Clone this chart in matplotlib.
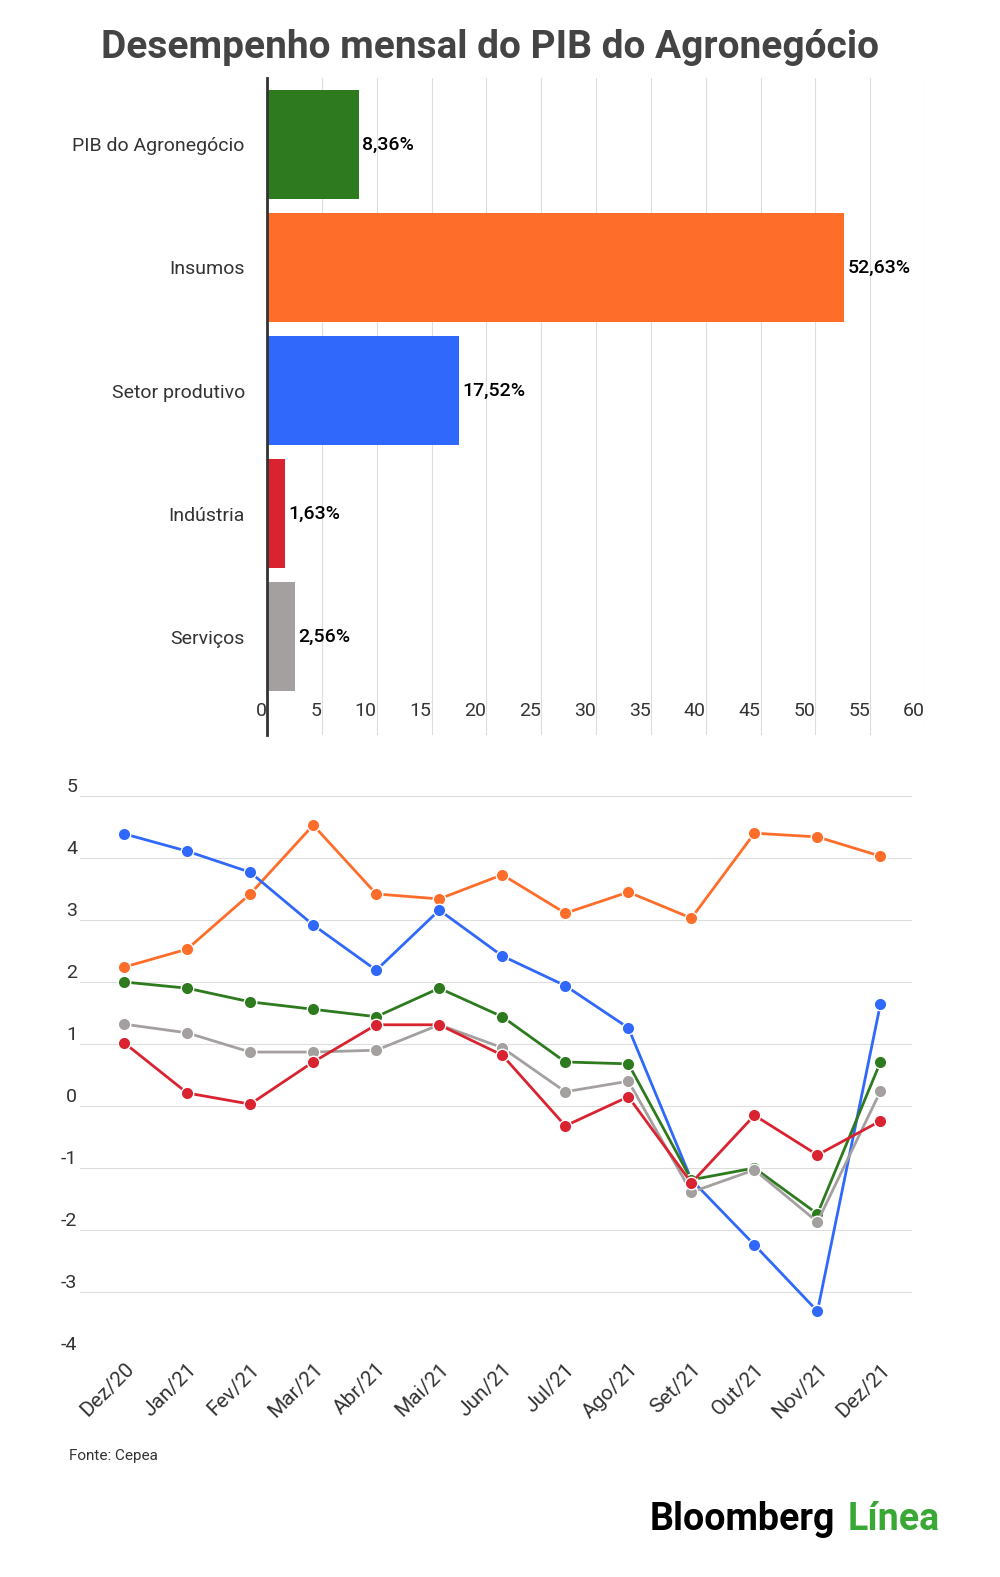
import matplotlib
matplotlib.use("Agg")
import matplotlib.pyplot as plt

plt.rcParams['font.family'] = ['Roboto', 'DejaVu Sans']

setores = ["PIB do Agronegócio", "Insumos", "Setor produtivo", "Indústria", "Serviços"]
valores = [8.36, 52.63, 17.52, 1.63, 2.56]
rotulos = ["8,36%", "52,63%", "17,52%", "1,63%", "2,56%"]
cores = ["#2e7a1f", "#ff6d2a", "#2f68fb", "#d92330", "#a4a0a0"]

meses = ["Dez/20", "Jan/21", "Fev/21", "Mar/21", "Abr/21", "Mai/21", "Jun/21",
         "Jul/21", "Ago/21", "Set/21", "Out/21", "Nov/21", "Dez/21"]
insumos = [2.24, 2.53, 3.42, 4.53, 3.42, 3.34, 3.73, 3.11, 3.45, 3.03, 4.40, 4.34, 4.03]
produtivo = [4.39, 4.11, 3.77, 2.92, 2.19, 3.16, 2.42, 1.94, 1.26, -1.19, -2.24, -3.31, 1.65]
pib = [2.0, 1.9, 1.68, 1.56, 1.44, 1.9, 1.44, 0.71, 0.68, -1.19, -1.0, -1.74, 0.71]
servicos = [1.32, 1.18, 0.87, 0.87, 0.9, 1.31, 0.94, 0.23, 0.4, -1.39, -1.03, -1.87, 0.24]
industria = [1.02, 0.21, 0.03, 0.71, 1.31, 1.31, 0.82, -0.32, 0.15, -1.24, -0.15, -0.79, -0.24]

fig = plt.figure(figsize=(10, 15.77), dpi=100)
fig.text(0.49, 1 - 48/1577, "Desempenho mensal do PIB do Agronegócio", ha='center', va='center',
         fontsize=28, fontweight='bold', color='#444444')

# barras
ax = fig.add_axes([0.267, 1 - 735/1577, 0.658, (735-78)/1577])
y = range(len(setores))
ax.barh(y, valores, color=cores, height=0.89)
ax.set_ylim(4.8, -0.54)
ax.set_xlim(0, 60)
ax.set_yticks(list(y))
ax.set_yticklabels(setores, fontsize=14, color='#333333')
ax.set_xticks(range(0, 61, 5))
ax.set_xticklabels([str(v) for v in range(0, 61, 5)], ha='right')
ax.tick_params(axis='x', direction='in', pad=-24, labelsize=14, colors='#333333', length=0)
ax.tick_params(axis='y', length=0, pad=16)
for i, v in enumerate(valores):
    ax.text(v + 0.3, i, rotulos[i], va='center', fontsize=14, fontweight='medium', color='black')
ax.grid(axis='x', color='#dddddd')
ax.set_axisbelow(True)
for s in ['top', 'right', 'bottom']:
    ax.spines[s].set_visible(False)
ax.spines['left'].set_linewidth(2)
ax.spines['left'].set_color('#333333')

# linhas
ax2 = fig.add_axes([0.08, 1 - 1354/1577, 0.832, (1354-796)/1577])
x = range(len(meses))
for serie, cor in [(insumos, cores[1]), (produtivo, cores[2]), (pib, cores[0]),
                   (servicos, cores[4]), (industria, cores[3])]:
    ax2.plot(x, serie, color=cor, lw=2, marker='o', ms=9, mec='white', mew=1)
ax2.set_ylim(-4, 5)
ax2.set_xlim(-0.7, 12.5)
ax2.set_yticks(range(-4, 6))
ax2.set_yticklabels([str(v) for v in range(-4, 6)], fontsize=14, color='#333333', va='bottom')
ax2.tick_params(axis='y', length=0, pad=2)
ax2.set_xticks(list(x))
ax2.set_xticklabels(meses, rotation=45, ha='right', rotation_mode='anchor', fontsize=15, color='#333333')
ax2.tick_params(axis='x', length=0, pad=4)
ax2.grid(axis='y', color='#dddddd')
for s in ax2.spines.values():
    s.set_visible(False)

fig.text(0.069, 1 - 1456/1577, "Fonte: Cepea", fontsize=11, color='#333333', va='center')
fig.text(0.65, 1 - 1520/1577, "Bloomberg", fontsize=27, fontweight='bold', color='black', va='center')
fig.text(0.848, 1 - 1520/1577, "Línea", fontsize=27, fontweight='bold', color='#3aa835', va='center')

fig.savefig("out.png", dpi=100, facecolor='white')
